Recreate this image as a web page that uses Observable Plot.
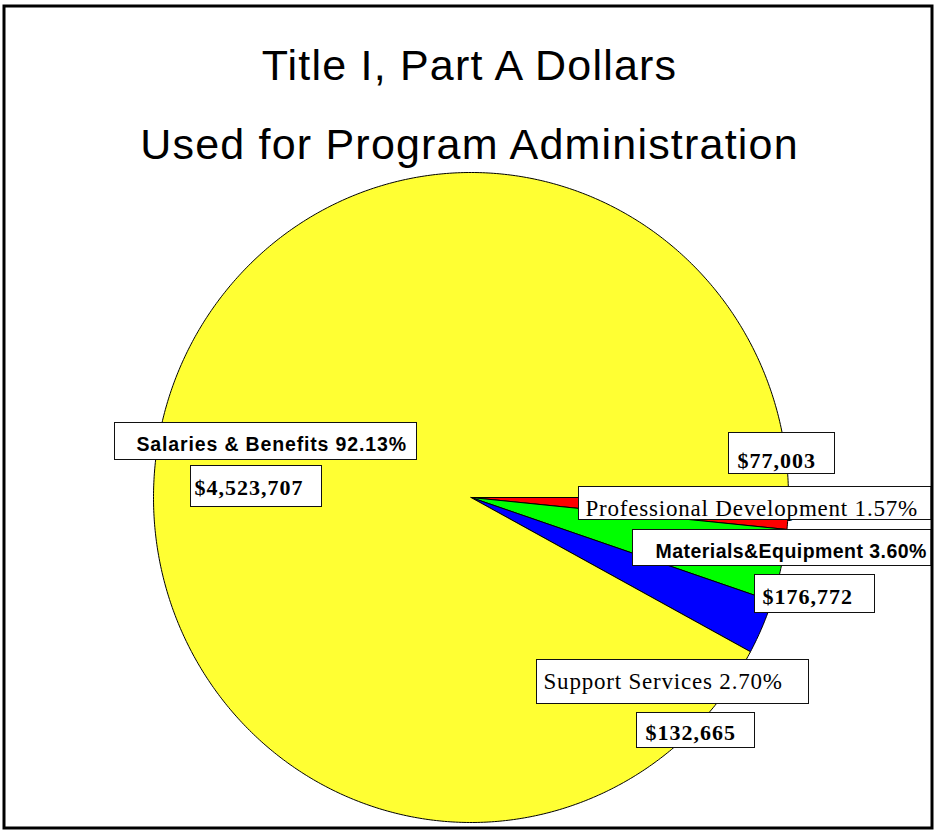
<!DOCTYPE html>
<html><head><meta charset="utf-8">
<script src="https://cdn.jsdelivr.net/npm/d3@7"></script>
<script src="https://cdn.jsdelivr.net/npm/@observablehq/plot@0.6"></script>
<style>
html,body{margin:0;padding:0;background:#fff;}
</style></head><body><div id="chart"></div>
<script>
// ---- data ----
const categories = ["Professional Development", "Materials&Equipment", "Support Services", "Salaries & Benefits"];
const dollars = [77003, 176772, 132665, 4523707];
const percents = [1.57, 3.60, 2.70, 92.13];
const sliceColors = ["#FF0000", "#00FF00", "#0000FF", "#FFFF33"];
const titleLines = ["Title I, Part A Dollars", "Used for Program Administration"];

// ---- layout ----
const W = 935, H = 830;
const P = {cx: 470.5, cy: 497, rx: 317.5, ry: 325};
const labelLayout = [
  {cat: "Salaries & Benefits",      kind: "pct",   style: "sans",  x1: 114.5, x2: 416.5, y1: 422.5, y2: 459.5, tx: 136, ty: 450},
  {cat: "Salaries & Benefits",      kind: "money", style: "money", x1: 190.5, x2: 321.5, y1: 465.5, y2: 506.5, tx: 194, ty: 494},
  {cat: "Professional Development", kind: "money", style: "money", x1: 728.5, x2: 834.5, y1: 432.5, y2: 473.5, tx: 737, ty: 467},
  {cat: "Professional Development", kind: "pct",   style: "serif", x1: 578.5, x2: 931,   y1: 486.5, y2: 519.5, tx: 585, ty: 515},
  {cat: "Materials&Equipment",      kind: "pct",   style: "sansTight", x1: 632.5, x2: 931, y1: 529.5, y2: 565.5, tx: 655, ty: 557},
  {cat: "Materials&Equipment",      kind: "money", style: "money", x1: 754.5, x2: 874.5, y1: 574.5, y2: 612.5, tx: 762, ty: 603},
  {cat: "Support Services",         kind: "pct",   style: "serif", x1: 536.5, x2: 808.5, y1: 659.5, y2: 703.5, tx: 543, ty: 688},
  {cat: "Support Services",         kind: "money", style: "money", x1: 636.5, x2: 754.5, y1: 712.5, y2: 747.5, tx: 645, ty: 739}
];
const spacing = {sans: 0.85, sansTight: 0.45, serif: 0.8, money: 1, title: 1.2};

// ---- build ----
const rows = categories.map((c, i) => ({cat: c, value: dollars[i], pct: percents[i]}));
const pie = d3.pie().sort(null).value(d => d.value)
  .startAngle(Math.PI / 2).endAngle(Math.PI / 2 + 2 * Math.PI);
const arcs = pie(rows);
const pts = [];
for (const a of arcs) {
  const cat = a.data.cat;
  const n = Math.max(2, Math.ceil((a.endAngle - a.startAngle) / (2 * Math.PI) * 720));
  pts.push({cat, x: P.cx, y: P.cy});
  for (let k = 0; k <= n; k++) {
    const t = a.startAngle + (a.endAngle - a.startAngle) * k / n;
    pts.push({cat, x: P.cx + P.rx * Math.sin(t), y: P.cy - P.ry * Math.cos(t)});
  }
  pts.push({cat, x: P.cx, y: P.cy});
}
const byCat = new Map(rows.map(r => [r.cat, r]));
const fmtMoney = d3.format("$,");
const labels = labelLayout.map(l => {
  const r = byCat.get(l.cat);
  return {...l, text: l.kind === "pct" ? `${r.cat} ${r.pct.toFixed(2)}%` : fmtMoney(r.value)};
});
const titles = titleLines.map((t, i) => ({text: t, x: 469, y: [79, 158][i], style: "title"}));
const isSans = d => d.style === "sans" || d.style === "sansTight";

const plot = Plot.plot({
  width: W, height: H,
  margin: 0,
  style: {background: "#fff", overflow: "hidden"},
  x: {domain: [0, W], range: [0, W], axis: null},
  y: {domain: [0, H], range: [0, H], axis: null},
  color: {domain: categories, range: sliceColors},
  marks: [
    Plot.line(pts, {x: "x", y: "y", z: "cat", fill: "cat", stroke: "#000", strokeWidth: 1, strokeLinejoin: "round"}),
    Plot.rect(labels, {x1: "x1", x2: "x2", y1: "y1", y2: "y2", fill: "#fff", stroke: "#111", strokeWidth: 1}),
    Plot.text(labels.filter(isSans), {x: "tx", y: "ty", text: "text", textAnchor: "start", lineAnchor: "bottom", fontFamily: "Liberation Sans, Arial, sans-serif", fontWeight: "bold", fontSize: 19.5, fill: "#000"}),
    Plot.text(labels.filter(d => d.style === "serif"), {x: "tx", y: "ty", text: "text", textAnchor: "start", lineAnchor: "bottom", fontFamily: "Liberation Serif, Times New Roman, serif", fontSize: 23, fill: "#000"}),
    Plot.text(labels.filter(d => d.style === "money"), {x: "tx", y: "ty", text: "text", textAnchor: "start", lineAnchor: "bottom", fontFamily: "Liberation Serif, Times New Roman, serif", fontWeight: "bold", fontSize: 22, fill: "#000"}),
    Plot.text(titles, {x: "x", y: "y", text: "text", textAnchor: "middle", lineAnchor: "bottom", fontFamily: "Liberation Sans, Arial, sans-serif", fontSize: 43, fill: "#000"}),
    Plot.frame({stroke: "#000", strokeWidth: 3, insetLeft: 3.5, insetTop: 5.5, insetRight: 3.5, insetBottom: 2.5})
  ]
});
// letter spacing per label style
const spacingByText = new Map([...labels, ...titles].map(d => [d.text, spacing[d.style]]));
plot.querySelectorAll("text").forEach(el => {
  const s = spacingByText.get(el.textContent);
  if (s != null) el.style.letterSpacing = s + "px";
});
document.getElementById("chart").appendChild(plot);
</script>
</body></html>
